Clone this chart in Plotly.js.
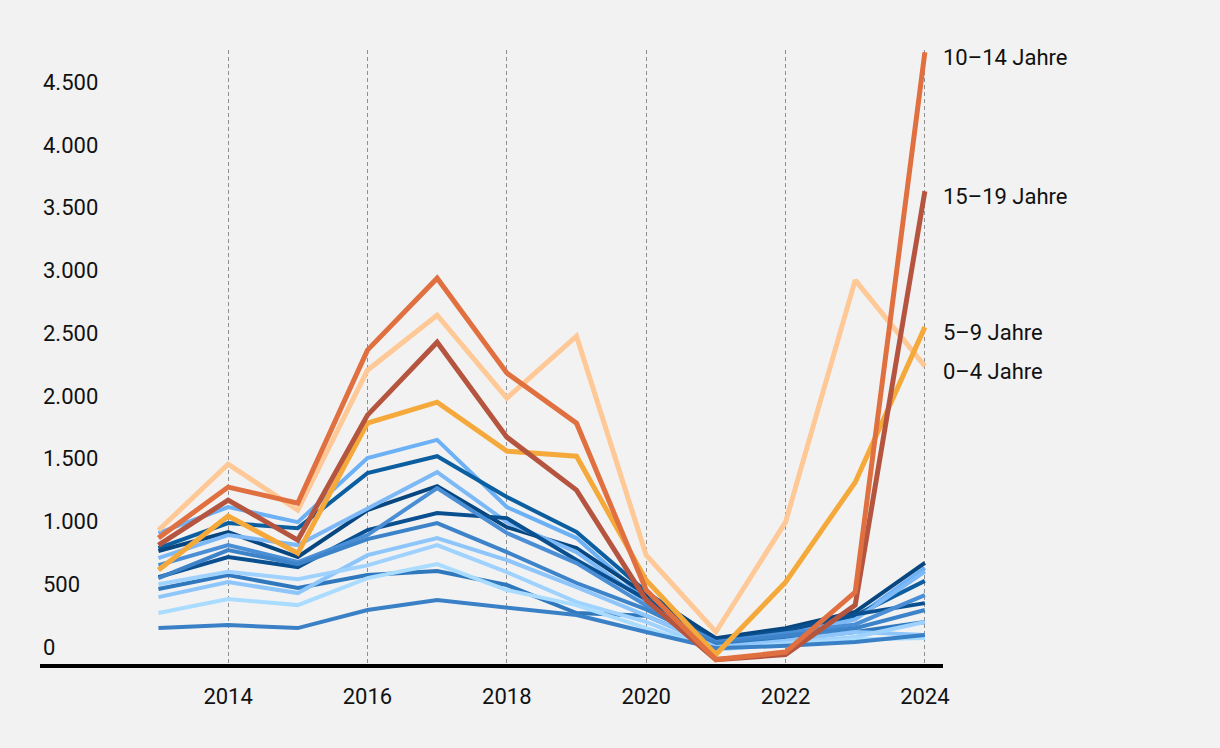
<!DOCTYPE html>
<html>
<head>
<meta charset="utf-8">
<script src="https://cdn.plot.ly/plotly-3.0.1.min.js"></script>
<style>
  html, body { margin: 0; padding: 0; background: #f2f2f2; }
  #chart { width: 1220px; height: 748px; }
</style>
</head>
<body>
<div id="chart"></div>
<script>
// ---- data ----
const years = [2013, 2014, 2015, 2016, 2017, 2018, 2019, 2020, 2021, 2022, 2023, 2024];

const groupNames = ["0–4 Jahre", "5–9 Jahre", "10–14 Jahre", "15–19 Jahre",
  "20–24 Jahre", "25–29 Jahre", "30–34 Jahre", "35–39 Jahre", "40–44 Jahre", "45–49 Jahre",
  "50–54 Jahre", "55–59 Jahre", "60–64 Jahre", "65–69 Jahre", "70–74 Jahre", "75+ Jahre"];

const v0_4   = [930, 1457, 1090, 2205, 2643, 1982, 2476, 732, 120, 995, 2922, 2237];
const v5_9   = [613, 1043, 748, 1783, 1950, 1560, 1520, 533, -60, 517, 1313, 2548];
const v10_14 = [868, 1274, 1146, 2365, 2938, 2182, 1783, 454, -100, -40, 438, 4737];
const v15_19 = [812, 1170, 852, 1847, 2428, 1672, 1250, 374, -100, -60, 334, 3630];

const v20_24 = [908, 1115, 995, 1505, 1650, 1115, 868, 380, 30, 100, 230, 630];
const v25_29 = [788, 987, 947, 1385, 1520, 1195, 916, 440, 60, 140, 250, 527];
const v30_34 = [765, 916, 717, 1091, 1282, 955, 788, 420, 70, 150, 280, 670];
const v35_39 = [709, 892, 812, 1107, 1393, 995, 756, 360, 20, 80, 220, 600];
const v40_44 = [557, 717, 637, 932, 1067, 1027, 693, 380, 50, 130, 260, 350];
const v45_49 = [653, 812, 677, 892, 1266, 908, 669, 330, 40, 110, 180, 414];
const v50_54 = [549, 772, 660, 860, 987, 756, 510, 300, 30, 90, 150, 295];
const v55_59 = [462, 573, 470, 573, 605, 494, 271, 250, 10, 60, 120, 200];
const v60_64 = [398, 518, 430, 732, 868, 693, 478, 250, 0, 50, 120, 96];
const v65_69 = [500, 600, 540, 650, 812, 597, 358, 200, -20, 30, 80, 200];
const v70_74 = [271, 382, 334, 549, 661, 454, 334, 150, -20, 20, 60, 72];
const v75    = [151, 175, 151, 295, 374, 311, 255, 120, -10, 10, 40, 96];

const yTickVals = [0, 500, 1000, 1500, 2000, 2500, 3000, 3500, 4000, 4500];
const yTickText = ["0", "500", "1.000", "1.500", "2.000", "2.500", "3.000", "3.500", "4.000", "4.500"];
const xTickVals = [2014, 2016, 2018, 2020, 2022, 2024];
const xTickText = ["2014", "2016", "2018", "2020", "2022", "2024"];

const labelled = ["10–14 Jahre", "15–19 Jahre", "5–9 Jahre", "0–4 Jahre"];

// ---- styles ----
const blueSeries = [
  {name: groupNames[4],  y: v20_24, color: "#6cb0f5"},
  {name: groupNames[5],  y: v25_29, color: "#0b5fa0"},
  {name: groupNames[6],  y: v30_34, color: "#084680"},
  {name: groupNames[7],  y: v35_39, color: "#7db9f7"},
  {name: groupNames[8],  y: v40_44, color: "#0a4f8f"},
  {name: groupNames[9],  y: v45_49, color: "#4a8fd5"},
  {name: groupNames[10], y: v50_54, color: "#3d83c9"},
  {name: groupNames[11], y: v55_59, color: "#2f78bd"},
  {name: groupNames[12], y: v60_64, color: "#8ec6fb"},
  {name: groupNames[13], y: v65_69, color: "#9fd2ff"},
  {name: groupNames[14], y: v70_74, color: "#a9dcff"},
  {name: groupNames[15], y: v75,    color: "#3a80c6"}
];
const orangeSeries = [
  {name: groupNames[0], y: v0_4,   color: "#ffc897"},
  {name: groupNames[1], y: v5_9,   color: "#f5a93a"},
  {name: groupNames[3], y: v15_19, color: "#b5553f"},
  {name: groupNames[2], y: v10_14, color: "#e07040"}
];

const traces = [];
blueSeries.forEach(s => traces.push({
  type: "scatter", mode: "lines", x: years, y: s.y, name: s.name,
  line: {color: s.color, width: 4}, hoverinfo: "x+y+name", cliponaxis: false
}));
orangeSeries.forEach(s => traces.push({
  type: "scatter", mode: "lines", x: years, y: s.y, name: s.name,
  line: {color: s.color, width: 5}, hoverinfo: "x+y+name", cliponaxis: false
}));

const ends = {"0–4 Jahre": v0_4, "5–9 Jahre": v5_9, "10–14 Jahre": v10_14, "15–19 Jahre": v15_19};
const annotations = labelled.map(n => ({
  x: years[years.length - 1], y: ends[n][ends[n].length - 1],
  xref: "x", yref: "y", text: n, showarrow: false,
  xanchor: "left", yanchor: "middle", xshift: 16, yshift: -5,
  font: {family: "Roboto, sans-serif", size: 22, color: "#111111"}
}));

const layout = {
  width: 1220, height: 748,
  paper_bgcolor: "#f2f2f2", plot_bgcolor: "#f2f2f2",
  margin: {l: 40, r: 277, t: 50, b: 84},
  showlegend: false,
  font: {family: "Roboto, sans-serif", size: 22, color: "#111111"},
  xaxis: {
    range: [2011.30, 2024.26],
    tickvals: xTickVals, ticktext: xTickText,
    showgrid: true, gridcolor: "#8f8f8f", gridwidth: 1, griddash: "4px,3px",
    zeroline: false, showline: true, linecolor: "#000000", linewidth: 4,
    ticks: "", ticklabelstandoff: 10,
    tickfont: {family: "Roboto, sans-serif", size: 22, color: "#111111"}
  },
  yaxis: {
    range: [-135, 4755],
    tickvals: yTickVals, ticktext: yTickText,
    showgrid: false, zeroline: false, showline: false,
    ticks: "", ticklabelposition: "inside",
    tickfont: {family: "Roboto, sans-serif", size: 22, color: "#111111"}
  },
  annotations: annotations
};

Plotly.newPlot("chart", traces, layout, {displayModeBar: false, staticPlot: true});
</script>
</body>
</html>
